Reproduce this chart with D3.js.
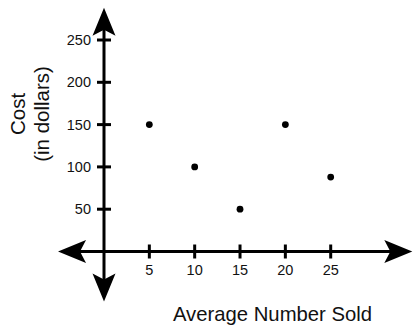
<!DOCTYPE html>
<html>
<head>
<meta charset="utf-8">
<script src="https://cdn.jsdelivr.net/npm/d3@7"></script>
<style>
html,body{margin:0;padding:0;background:#fff;}
svg{display:block;font-family:Arial,"Liberation Sans",sans-serif;}
</style>
</head>
<body>
<svg id="chart" width="413" height="326"></svg>
<script>
const xValues = [5, 10, 15, 20, 25];
const yValues = [150, 100, 50, 150, 88];
const xTicks = [5, 10, 15, 20, 25];
const yTicks = [50, 100, 150, 200, 250];
const xTitle = "Average Number Sold";
const yTitleLines = ["Cost", "(in dollars)"];

const svg = d3.select("#chart");
const x = d3.scaleLinear().domain([0, 25]).range([104, 330.7]);
const y = d3.scaleLinear().domain([0, 250]).range([251.5, 40]);
const xMin = -5.07, xMax = 34, yMin = -59, yMax = 288;

const ink = "#000";
// axis lines
svg.append("line").attr("x1", x(xMin) + 10).attr("x2", x(xMax) - 10)
  .attr("y1", y(0)).attr("y2", y(0)).attr("stroke", ink).attr("stroke-width", 3);
svg.append("line").attr("x1", x(0)).attr("x2", x(0))
  .attr("y1", y(yMax) + 10).attr("y2", y(yMin) - 10).attr("stroke", ink).attr("stroke-width", 3);

// arrowheads
function arrow(tx, ty, dx, dy) {
  const L = 28, W = 11.5, N = 22;
  const px = -dy, py = dx;
  const bx = tx - dx * L, by = ty - dy * L;
  const nx = tx - dx * N, ny = ty - dy * N;
  const p = d3.path();
  p.moveTo(tx, ty);
  p.lineTo(bx + px * W, by + py * W);
  p.lineTo(nx, ny);
  p.lineTo(bx - px * W, by - py * W);
  p.closePath();
  svg.append("path").attr("d", p.toString()).attr("fill", ink);
}
arrow(x(0), y(yMax), 0, -1);
arrow(x(0), y(yMin), 0, 1);
arrow(x(xMin), y(0), -1, 0);
arrow(x(xMax), y(0), 1, 0);

// ticks
svg.selectAll(".xt").data(xTicks).enter().append("line")
  .attr("x1", d => x(d)).attr("x2", d => x(d))
  .attr("y1", y(0) - 7).attr("y2", y(0) + 7)
  .attr("stroke", ink).attr("stroke-width", 3);
svg.selectAll(".yt").data(yTicks).enter().append("line")
  .attr("y1", d => y(d)).attr("y2", d => y(d))
  .attr("x1", x(0) - 7).attr("x2", x(0) + 7)
  .attr("stroke", ink).attr("stroke-width", 3);

// tick labels
svg.selectAll(".xl").data(xTicks).enter().append("text")
  .attr("x", d => x(d)).attr("y", y(0) + 23)
  .attr("text-anchor", "middle").attr("font-size", 14.5).attr("fill", "#111")
  .text(d => d);
svg.selectAll(".yl").data(yTicks).enter().append("text")
  .attr("x", x(0) - 13).attr("y", d => y(d) + 5)
  .attr("text-anchor", "end").attr("font-size", 14.5).attr("fill", "#111")
  .text(d => d);

// points
svg.selectAll(".pt").data(xValues).enter().append("circle")
  .attr("cx", d => x(d)).attr("cy", (d, i) => y(yValues[i]))
  .attr("r", 3.4).attr("fill", ink);

// titles
svg.append("text").attr("x", 272.5).attr("y", 321)
  .attr("text-anchor", "middle").attr("font-size", 20.3).attr("fill", "#111")
  .text(xTitle);
const yt = svg.append("g").attr("transform", "translate(0,114) rotate(-90)");
yTitleLines.forEach((t, i) => {
  yt.append("text").attr("x", 0).attr("y", 25 + i * 24)
    .attr("text-anchor", "middle").attr("font-size", 20.5).attr("fill", "#111")
    .text(t);
});
</script>
</body>
</html>
